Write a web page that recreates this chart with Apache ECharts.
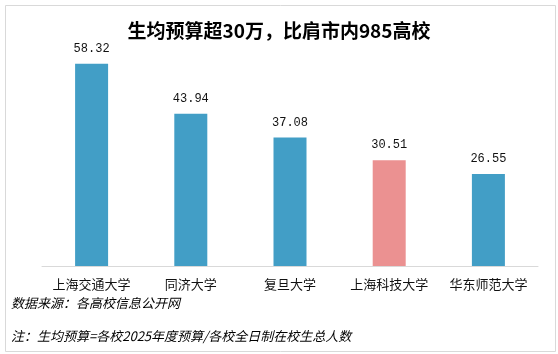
<!DOCTYPE html>
<html>
<head>
<meta charset="utf-8">
<style>
  html, body { margin: 0; padding: 0; background: #fff; }
  #main { width: 558px; height: 354px; }
</style>
<script src="https://cdn.jsdelivr.net/npm/echarts@6/dist/echarts.min.js"></script>
</head>
<body>
<div id="main"></div>
<script>
// 各校生均预算（万元）
var schools = ['上海交通大学', '同济大学', '复旦大学', '上海科技大学', '华东师范大学'];
var budgets = [58.32, 43.94, 37.08, 30.51, 26.55];
var highlight = '上海科技大学';

var titleText = '生均预算超30万，比肩市内985高校';
var sourceText = '数据来源：各高校信息公开网';
var noteText = '注：生均预算=各校2025年度预算/各校全日制在校生总人数';

var cjk = '"Noto Sans CJK SC", sans-serif';

var myChart = echarts.init(document.getElementById('main'));

var option = {
    backgroundColor: '#fff',
    animation: false,
    title: {
        text: titleText,
        left: 'center',
        top: 16,
        textStyle: {
            fontFamily: cjk,
            fontSize: 19,
            fontWeight: 'bold',
            color: '#000'
        }
    },
    grid: {
        left: 42,
        right: 20,
        top: 58,
        bottom: 88
    },
    xAxis: {
        type: 'category',
        data: schools,
        axisLine: { lineStyle: { color: '#d9d9d9', width: 1 } },
        axisTick: { show: false },
        axisLabel: {
            interval: 0,
            fontFamily: cjk,
            fontSize: 13,
            color: '#111',
            margin: 12
        }
    },
    yAxis: {
        type: 'value',
        min: 0,
        max: 60,
        show: false
    },
    series: [{
        type: 'bar',
        barWidth: 33,
        data: budgets,
        itemStyle: {
            color: function (p) {
                return p.name === highlight ? '#EB9191' : '#429EC6';
            }
        },
        label: {
            show: true,
            position: 'top',
            distance: 9,
            fontFamily: '"Liberation Mono", monospace',
            fontSize: 12,
            color: '#111',
            formatter: function (p) { return p.value.toFixed(2); }
        }
    }],
    graphic: [
        {
            type: 'rect',
            left: 3,
            top: 3,
            shape: { width: 550, height: 346 },
            style: { fill: 'none', stroke: '#d9d9d9', lineWidth: 1 },
            silent: true
        },
        {
            type: 'text',
            left: 11,
            top: 297,
            style: {
                text: sourceText,
                font: 'italic 13px ' + cjk,
                fill: '#000'
            }
        },
        {
            type: 'text',
            left: 11,
            top: 330,
            style: {
                text: noteText,
                font: 'italic 13px ' + cjk,
                fill: '#000'
            }
        }
    ]
};

myChart.setOption(option);
</script>
</body>
</html>
